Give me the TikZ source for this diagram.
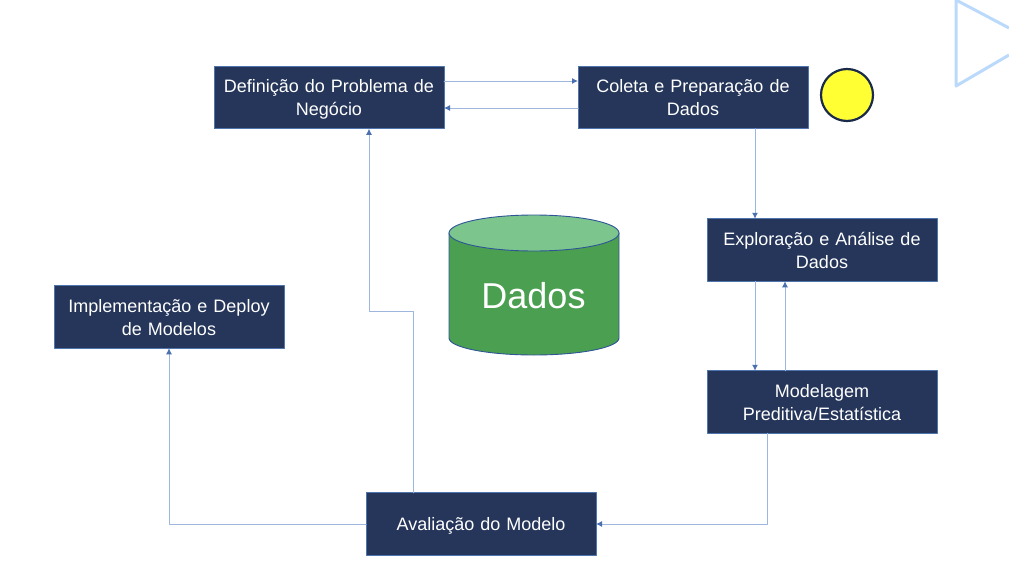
\documentclass[tikz,border=0pt]{standalone}
\usepackage{fontspec}
\setmainfont{Liberation Sans}
\usetikzlibrary{arrows.meta}
\definecolor{boxfill}{HTML}{25365A}
\definecolor{boxline}{HTML}{4F75AE}
\definecolor{flowline}{HTML}{9DB6DE}
\definecolor{tipfill}{HTML}{4A70B0}
\definecolor{dbbody}{HTML}{4A9F50}
\definecolor{dbtop}{HTML}{7CC68E}
\definecolor{dbline}{HTML}{2F5597}
\definecolor{triline}{HTML}{BBDAFB}
\definecolor{dotfill}{HTML}{FFFF33}
\definecolor{dotline}{HTML}{1A2A4A}
\tikzset{
	stepbox/.style={draw=boxline, line width=0.8pt, fill=boxfill, text=white, outer sep=0pt, inner sep=0pt,
		minimum width=230pt, minimum height=62.5pt, text width=226pt, align=center,
		font=\fontsize{18}{23}\selectfont, execute at begin node={\rule{0pt}{18pt}},
		execute at end node={\rule[-5pt]{0pt}{5pt}}},
	flow/.style={draw=flowline, line width=1pt, -{Latex[length=6pt,width=6pt,color=tipfill]}}
}
\begin{document}
\begin{tikzpicture}[x=1pt, y=-1pt, line join = round, line cap = round]
	\useasboundingbox (0,0) rectangle (1009,578);
	\path (956,0) coordinate (T1) (1009,28) coordinate (T2) (1009,55) coordinate (T3) (956,86) coordinate (T4);
	\draw[triline, line width=3pt, line cap=butt] (T2)--(T1)--(T4)--(T3);
	\node[stepbox] (def) at (329,97.5) {Definição do Problema de\\Negócio};
	\node[stepbox] (col) at (693,97.5) {Coleta e Preparação de\\Dados};
	\node[stepbox] (exp) at (822,250) {Exploração e Análise de\\Dados};
	\node[stepbox] (mod) at (822,402) {Modelagem\\Preditiva/Estatística};
	\node[stepbox] (imp) at (169,317) {Implementação e Deploy\\de Modelos};
	\node[stepbox] (ava) at (481,524) {Avaliação do Modelo};
	\node[circle, draw=dotline, fill=dotfill, line width=2.2pt, minimum size=52pt, inner sep=0pt] (dot) at (847,95) {};
	\path (449,233) coordinate (DL) (619,233) coordinate (DR) (449,338) coordinate (BL) (619,338) coordinate (BR);
	\draw[dbline, fill=dbbody, line width=0.9pt] (DL)--(BL) arc[start angle=180, end angle=0, x radius=85, y radius=17]--(DR)--cycle;
	\draw[dbline, fill=dbtop, line width=0.9pt] (534,233) ellipse[x radius=85, y radius=18];
	\node[text=white, font=\fontsize{36}{40}\selectfont] (dados) at (533.5,296) {Dados};
	\draw[flow] ([yshift=16.5pt]def.east) -- ([yshift=16.5pt]col.west);
	\draw[flow] ([yshift=-10.5pt]col.west) -- ([yshift=-10.5pt]def.east);
	\draw[flow] ([xshift=62pt]col.south) -- ([xshift=-67pt]exp.north);
	\draw[flow] ([xshift=-67pt]exp.south) -- ([xshift=-67pt]mod.north);
	\draw[flow] ([xshift=-37pt]mod.north) -- ([xshift=-37pt]exp.south);
	\draw[flow] ([xshift=-55pt]mod.south) |- (ava.east);
	\draw[flow] ([xshift=-68pt]ava.north) |- (369,311) -- ([xshift=40pt]def.south);
	\draw[flow] (ava.west) -| (imp.south);
\end{tikzpicture}
\end{document}
